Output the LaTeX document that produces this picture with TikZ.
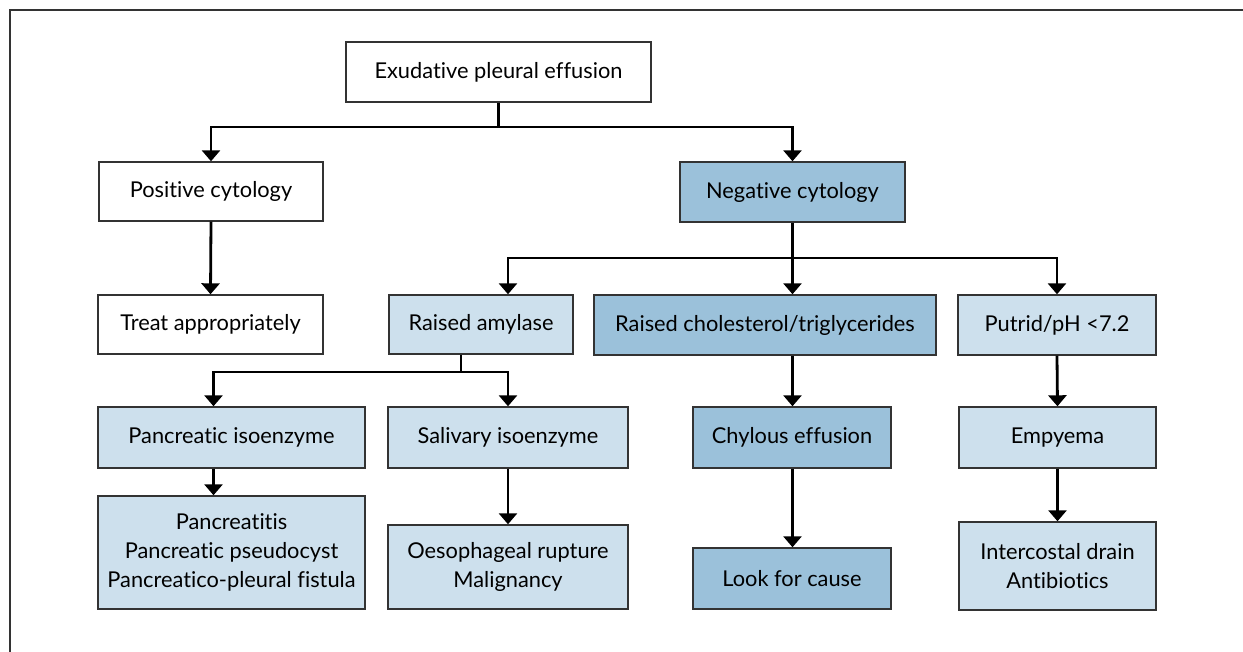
\documentclass[tikz,border=0pt]{standalone}
\usepackage{fontspec}
\setmainfont{Lato}[Ligatures={NoCommon}]
\usetikzlibrary{arrows.meta,calc}
\definecolor{darkbl}{HTML}{9BC1DA}
\definecolor{lightbl}{HTML}{CDE0ED}
\definecolor{edgegray}{HTML}{333333}
\begin{document}
\begin{tikzpicture}[x=1pt,y=-1pt,
  box/.style={draw=edgegray,line width=1.4pt,rectangle,inner sep=0pt,align=center,
    font=\fontsize{21.8}{29}\selectfont},
  wbox/.style={box,fill=white},
  dbox/.style={box,fill=darkbl},
  lbox/.style={box,fill=lightbl},
  conn/.style={line width=2.8pt,black},
  arr/.style={conn,-{Triangle[width=18pt,length=11pt]}}]
\useasboundingbox (0,0) rectangle (1243,652);
% frame (top and left edges visible)
\draw[line width=1.2pt,edgegray] (10,652) -- (10,10) -- (1243,10);
% nodes
\node[wbox,minimum width=305,minimum height=60] (ex) at (498.5,72) {Exudative pleural effusion};
\node[wbox,minimum width=224,minimum height=59] (pos) at (211,191.5) {Positive cytology};
\node[dbox,minimum width=225,minimum height=60] (neg) at (792.5,192) {Negative cytology};
\node[wbox,minimum width=225,minimum height=59] (treat) at (210.5,324.5) {Treat appropriately};
\node[lbox,minimum width=184,minimum height=59] (amy) at (481,324.5) {Raised amylase};
\node[dbox,minimum width=342,minimum height=60] (chol) at (765,325) {Raised cholesterol/triglycerides};
\node[lbox,minimum width=198,minimum height=60] (put) at (1057,325) {Putrid/pH <7.2};
\node[lbox,minimum width=267,minimum height=61] (panc) at (231.5,437.5) {Pancreatic isoenzyme};
\node[lbox,minimum width=240,minimum height=61] (sal) at (508,437.5) {Salivary isoenzyme};
\node[dbox,minimum width=198,minimum height=61] (chy) at (792,437.5) {Chylous effusion};
\node[lbox,minimum width=197,minimum height=61] (emp) at (1057.5,437.5) {Empyema};
\node[lbox,minimum width=267,minimum height=113] (pan3) at (231.5,552.5) {Pancreatitis\\Pancreatic pseudocyst\\Pancreatico-pleural fistula};
\node[lbox,minimum width=240,minimum height=84] (oes) at (508,567) {Oesophageal rupture\\Malignancy};
\node[dbox,minimum width=198,minimum height=61] (look) at (792,578.5) {Look for cause};
\node[lbox,minimum width=197,minimum height=88] (inter) at (1057.5,566) {Intercostal drain\\Antibiotics};
% branch points
\coordinate (j1) at (ex.south |- 0,127);
\coordinate (j2) at (neg.south |- 0,258);
\coordinate (amyout) at ($(amy.south)+(-20,0)$);
\coordinate (j3) at (amyout |- 0,372);
\coordinate (amyin) at (sal.north |- amy.north);
\coordinate (pancin) at ($(panc.north)+(-18,0)$);
\coordinate (pancout) at ($(panc.south)+(-18,0)$);
\coordinate (pan3in) at ($(pan3.north)+(-18,0)$);
\coordinate (cholin) at (neg.south |- chol.north);
\coordinate (cholout) at (neg.south |- chol.south);
\coordinate (chyin) at (neg.south |- chy.north);
% connectors
\draw[conn] (ex.south) -- (j1);
\draw[arr] (j1) -| (pos.north);
\draw[arr] (j1) -| (neg.north);
\draw[arr] (pos.south) -- (treat.north);
\draw[conn] (neg.south) -- (j2);
\draw[arr] (j2) -| (amyin);
\draw[arr] (j2) -- (cholin);
\draw[arr] (j2) -| (put.north);
\draw[conn] (amyout) -- (j3);
\draw[arr] (j3) -| (pancin);
\draw[arr] (j3) -| (sal.north);
\draw[arr] (pancout) -- (pan3in);
\draw[arr] (sal.south) -- (oes.north);
\draw[arr] (cholout) -- (chyin);
\draw[arr] (chyin |- chy.south) -- (look.north -| chyin);
\draw[arr] (put.south) -- (emp.north);
\draw[arr] (emp.south) -- (inter.north);
\end{tikzpicture}
\end{document}
